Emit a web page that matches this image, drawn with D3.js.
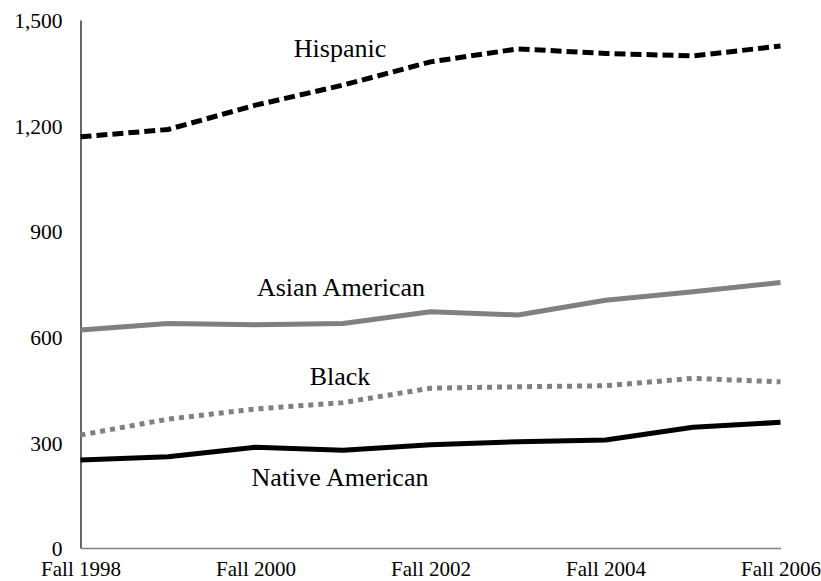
<!DOCTYPE html>
<html>
<head>
<meta charset="utf-8">
<script src="https://cdn.jsdelivr.net/npm/d3@7"></script>
<style>
  html, body { margin: 0; padding: 0; background: #fff; }
  svg { display: block; }
  text { font-family: "Liberation Serif", "Times New Roman", serif; fill: #000; }
</style>
</head>
<body>
<svg id="chart" width="821" height="581"></svg>
<script>
const years = ["Fall 1998","Fall 1999","Fall 2000","Fall 2001","Fall 2002","Fall 2003","Fall 2004","Fall 2005","Fall 2006"];
const tickLabels = ["Fall 1998","Fall 2000","Fall 2002","Fall 2004","Fall 2006"];
const yTicks = [0, 300, 600, 900, 1200, 1500];

const hispanic = [1168, 1189, 1258, 1315, 1381, 1418, 1405, 1398, 1426];
const asianAmerican = [619, 638, 634, 638, 671, 662, 704, 728, 754];
const black = [321, 366, 395, 413, 454, 458, 461, 482, 472];
const nativeAmerican = [250, 259, 286, 278, 293, 302, 307, 343, 357];

const series = [
  { name: "Hispanic", values: hispanic, color: "#000", dash: "11,5", label: { x: 340, y: 57 } },
  { name: "Asian American", values: asianAmerican, color: "#808080", dash: null, label: { x: 341, y: 296 } },
  { name: "Black", values: black, color: "#808080", dash: "5,5", label: { x: 340, y: 385 } },
  { name: "Native American", values: nativeAmerican, color: "#000", dash: null, label: { x: 340, y: 486 } }
];

const svg = d3.select("#chart");
const mLeft = 80.5, mRight = 780.5, mTop = 20, mBottom = 548;

const x = d3.scalePoint().domain(years).range([mLeft, mRight]);
const y = d3.scaleLinear().domain([0, 1500]).range([mBottom, mTop]);

// Y axis
const yAxis = svg.append("g").attr("transform", `translate(${mLeft},0)`)
  .call(d3.axisLeft(y).tickValues(yTicks).tickSize(0).tickPadding(18).tickFormat(d3.format(",")));
yAxis.select(".domain").attr("stroke", "#000").attr("stroke-width", 1.2);
yAxis.selectAll("text").style("font-size", "21.5px").attr("dy", "0.36em");

// X axis
const xAxis = svg.append("g").attr("transform", `translate(0,${mBottom})`)
  .call(d3.axisBottom(x).tickValues(tickLabels).tickSize(0).tickPadding(6));
xAxis.select(".domain").attr("stroke", "#808080").attr("stroke-width", 1.5);
xAxis.selectAll("text").style("font-size", "21px").attr("dy", "1.05em");

const line = d3.line().x((d, i) => x(years[i])).y(d => y(d));

series.forEach(s => {
  svg.append("path")
    .datum(s.values)
    .attr("d", line)
    .attr("fill", "none")
    .attr("stroke", s.color)
    .attr("stroke-width", 5)
    .attr("stroke-dasharray", s.dash)
    .attr("stroke-linejoin", "round");
  svg.append("text")
    .attr("x", s.label.x)
    .attr("y", s.label.y)
    .attr("text-anchor", "middle")
    .style("font-size", "26px")
    .text(s.name);
});
</script>
</body>
</html>
